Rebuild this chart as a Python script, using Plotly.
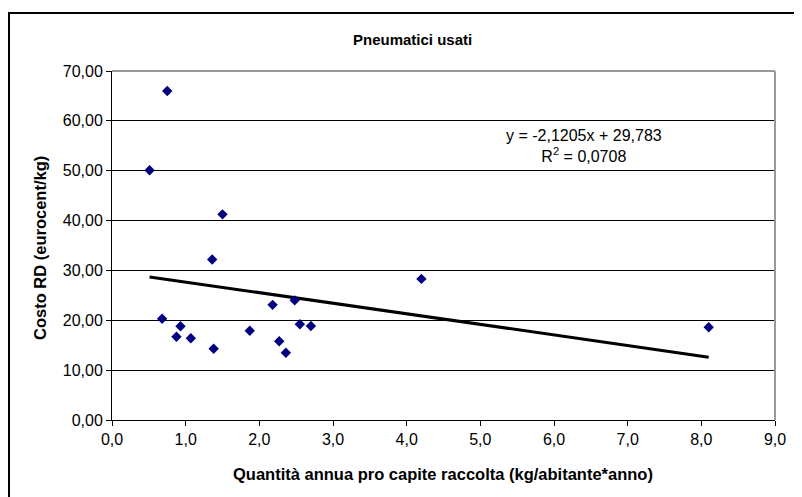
import plotly.graph_objects as go

# Data
x_vals = [0.51, 0.75, 0.68, 0.875, 0.93, 1.07, 1.36, 1.38, 1.50, 1.87, 2.18, 2.27, 2.36, 2.48, 2.55, 2.70, 4.20, 8.10]
y_vals = [50.1, 66.0, 20.3, 16.7, 18.8, 16.4, 32.2, 14.3, 41.25, 17.9, 23.1, 15.8, 13.5, 24.0, 19.2, 18.85, 28.3, 18.6]

# Trend line (from the equation shown on the chart)
slope = -2.1205
intercept = 29.783
eq_text = "y = -2,1205x + 29,783<br>R<sup>2</sup> = 0,0708"

title = "Pneumatici usati"
x_title = "Quantità annua pro capite raccolta (kg/abitante*anno)"
y_title = "Costo RD (eurocent/kg)"

W, H = 802, 497
OFF = 8  # page offset of the figure in the screenshot
L, R, T, B = 104, 35, 63, 85
pw, ph = W - L - R, H - T - B

def px(xs):
    return (xs - OFF - L) / pw

def py(ys):
    return (H - B - (ys - OFF)) / ph

x_min, x_max = min(x_vals), max(x_vals)
trend_x = [x_min, x_max]
trend_y = [slope * v + intercept for v in trend_x]

fig = go.Figure()
fig.add_trace(go.Scatter(
    x=trend_x, y=trend_y, mode="lines",
    line=dict(color="black", width=3), showlegend=False, hoverinfo="skip"))
fig.add_trace(go.Scatter(
    x=x_vals, y=y_vals, mode="markers",
    marker=dict(symbol="diamond", size=8, color="#000080", line=dict(width=0)),
    showlegend=False))

font = "Arial, Liberation Sans, sans-serif"

fig.update_layout(
    width=W, height=H,
    margin=dict(l=L, r=R, t=T, b=B),
    paper_bgcolor="white", plot_bgcolor="white",
    separators=",.",
    font=dict(family=font, size=16, color="black"),
    xaxis=dict(
        range=[0, 9], dtick=1, tick0=0, tickformat=".1f",
        showgrid=False, zeroline=False,
        showline=True, linecolor="black", linewidth=1,
        ticks="outside", ticklen=5, tickcolor="black",
        tickfont=dict(size=16),
    ),
    yaxis=dict(
        range=[0, 70], dtick=10, tick0=0, tickformat=".2f",
        showgrid=True, gridcolor="black", gridwidth=1,
        zeroline=False,
        showline=True, linecolor="black", linewidth=1,
        ticks="outside", ticklen=5, tickcolor="black",
        tickfont=dict(size=16),
    ),
    shapes=[
        # plot area gray border (top and right)
        dict(type="line", xref="paper", yref="paper", x0=0, x1=1, y0=1, y1=1,
             line=dict(color="#999999", width=2)),
        dict(type="line", xref="paper", yref="paper", x0=1, x1=1, y0=0, y1=1,
             line=dict(color="#999999", width=2)),
        # outer chart border
        dict(type="rect", xref="paper", yref="paper",
             x0=px(9), x1=px(W + 20), y0=py(H + 20), y1=py(13),
             line=dict(color="black", width=2), layer="below"),
    ],
    annotations=[
        dict(text="<b>" + title + "</b>", xref="paper", yref="paper",
             x=px(412), y=py(40), xanchor="center", yanchor="middle",
             showarrow=False, font=dict(size=15)),
        dict(text="<b>" + x_title + "</b>", xref="paper", yref="paper",
             x=px(443), y=py(474), xanchor="center", yanchor="middle",
             showarrow=False, font=dict(size=16.5)),
        dict(text="<b>" + y_title + "</b>", xref="paper", yref="paper",
             x=px(40), y=py(248), xanchor="center", yanchor="middle",
             textangle=-90, showarrow=False, font=dict(size=16.5)),
        dict(text=eq_text, xref="paper", yref="paper",
             x=px(584), y=py(146), xanchor="center", yanchor="middle",
             align="center", showarrow=False, font=dict(size=16)),
    ],
)

fig.write_html("out.html")
